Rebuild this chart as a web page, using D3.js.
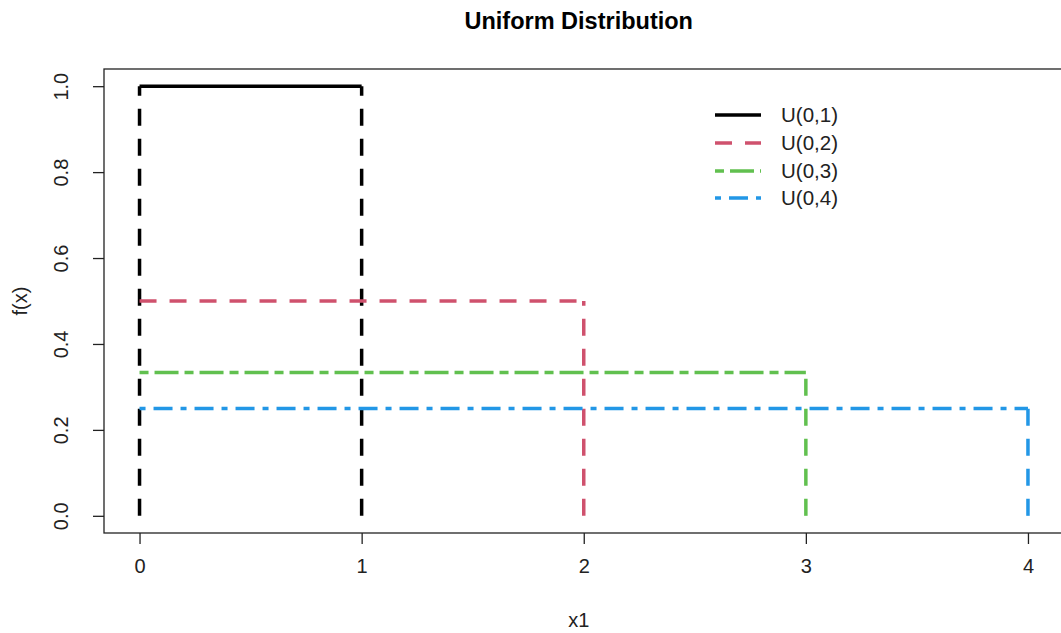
<!DOCTYPE html>
<html>
<head>
<meta charset="utf-8">
<script src="https://cdn.jsdelivr.net/npm/d3@7"></script>
<style>
  body { margin: 0; background: #fff; }
  text { font-family: "Liberation Sans", Arial, sans-serif; fill: #222; }
</style>
</head>
<body>
<div id="chart"></div>
<script>
// chart data
const labels = ["U(0,1)", "U(0,2)", "U(0,3)", "U(0,4)"];
const upperBounds = [1, 2, 3, 4];
const densities = [1, 0.5, 1 / 3, 0.25];
const xTicks = [0, 1, 2, 3, 4];
const yTicks = [0, 0.2, 0.4, 0.6, 0.8, 1.0];

// line styles (R-like lty at lwd 3)
const colors = ["#000000", "#CF516D", "#61C04F", "#2297E6"];
const dashes = [null, "17,13", "9,6,24,6", "6,8,19,8"];
const verticalDash = "17,13";

const WIDTH = 1061, HEIGHT = 633;
const PLOT = { LEFT: 104, RIGHT: 1063.5, TOP: 69, BOTTOM: 533 };

const svg = d3.select("#chart").append("svg")
    .attr("width", WIDTH)
    .attr("height", HEIGHT);

// R pads the data range by 4% on each side
const x = d3.scaleLinear().domain([-0.16, 4.16]).range([PLOT.LEFT, PLOT.RIGHT]);
const y = d3.scaleLinear().domain([-0.04, 1.04]).range([PLOT.BOTTOM, PLOT.TOP]);

// Title
svg.append("text")
    .attr("x", (PLOT.LEFT + PLOT.RIGHT) / 2 - 5)
    .attr("y", 29)
    .attr("text-anchor", "middle")
    .style("font-size", "23.5px")
    .style("font-weight", "bold")
    .style("fill", "#000")
    .text("Uniform Distribution");

// Plot frame
svg.append("rect")
    .attr("x", PLOT.LEFT)
    .attr("y", PLOT.TOP)
    .attr("width", PLOT.RIGHT - PLOT.LEFT)
    .attr("height", PLOT.BOTTOM - PLOT.TOP)
    .attr("fill", "none")
    .attr("stroke", "#222")
    .attr("stroke-width", 1.3);

// X axis
const xAxis = svg.append("g")
    .attr("transform", `translate(0, ${PLOT.BOTTOM})`)
    .call(d3.axisBottom(x).tickValues(xTicks).tickFormat(d3.format("d")).tickSize(11).tickPadding(15));
xAxis.select(".domain").remove();
xAxis.selectAll("line").attr("stroke", "#222").attr("stroke-width", 1.3);
xAxis.selectAll("text")
    .style("font-size", "20px")
    .style("font-family", "Liberation Sans, Arial, sans-serif")
    .attr("fill", "#222");

// Y axis with rotated labels
const yAxis = svg.append("g")
    .attr("transform", `translate(${PLOT.LEFT}, 0)`)
    .call(d3.axisLeft(y).tickValues(yTicks).tickFormat(d3.format(".1f")).tickSize(11));
yAxis.select(".domain").remove();
yAxis.selectAll("line").attr("stroke", "#222").attr("stroke-width", 1.3);
yAxis.selectAll("text")
    .attr("x", null)
    .attr("dy", null)
    .attr("text-anchor", "middle")
    .attr("transform", "translate(-29, 0) rotate(-90) translate(0, -7)")
    .style("font-size", "20px")
    .style("font-family", "Liberation Sans, Arial, sans-serif")
    .attr("fill", "#222");

// Axis labels
svg.append("text")
    .attr("x", (PLOT.LEFT + PLOT.RIGHT) / 2 - 5)
    .attr("y", 627)
    .attr("text-anchor", "middle")
    .style("font-size", "20px")
    .text("x1");

svg.append("text")
    .attr("transform", `translate(27, ${(PLOT.TOP + PLOT.BOTTOM) / 2}) rotate(-90)`)
    .attr("text-anchor", "middle")
    .style("font-size", "20px")
    .text("f(x)");

// Density lines
const lineGroup = svg.append("g").attr("fill", "none").attr("stroke-width", 3.5);
const line = d3.line().x(d => x(d[0])).y(d => y(d[1]));

labels.forEach((lab, i) => {
    const b = upperBounds[i];
    const h = densities[i];
    // vertical edges, dashed (the shared left edge at 0 is only drawn once, by the first one)
    const edges = i === 0 ? [0, b] : [b];
    edges.forEach(edge => {
        lineGroup.append("path")
            .attr("d", line([[edge, 0], [edge, h]]))
            .attr("stroke", colors[i])
            .attr("stroke-dasharray", verticalDash);
    });
    // flat top
    lineGroup.append("path")
        .attr("d", line([[0, h], [b, h]]))
        .attr("stroke", colors[i])
        .attr("stroke-dasharray", dashes[i]);
});

// Legend
const legend = svg.append("g");
const legendY = [115, 143, 171, 198];
labels.forEach((lab, i) => {
    legend.append("line")
        .attr("x1", 715).attr("x2", 761)
        .attr("y1", legendY[i]).attr("y2", legendY[i])
        .attr("stroke", colors[i])
        .attr("stroke-width", 3.5)
        .attr("stroke-dasharray", dashes[i]);
    legend.append("text")
        .attr("x", 781)
        .attr("y", legendY[i])
        .attr("dy", "0.36em")
        .style("font-size", "20.5px")
        .text(lab);
});
</script>
</body>
</html>
